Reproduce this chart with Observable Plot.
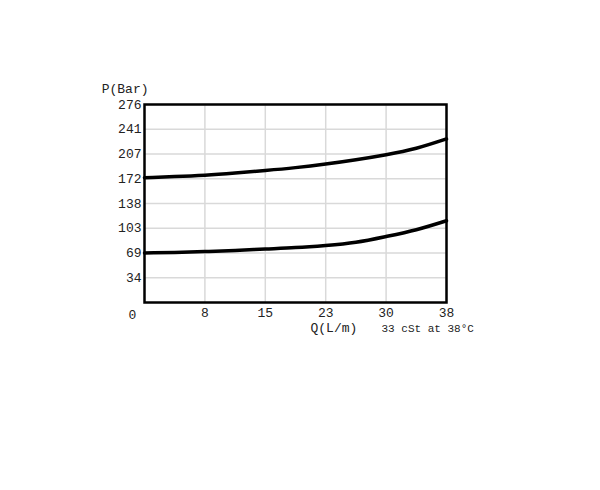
<!DOCTYPE html>
<html>
<head>
<meta charset="utf-8">
<script src="https://cdn.jsdelivr.net/npm/d3@7"></script>
<script src="https://cdn.jsdelivr.net/npm/@observablehq/plot@0.6"></script>
<style>
  body { margin: 0; background: #fff; }
  #chart svg { font-family: "Liberation Mono", monospace; }
</style>
</head>
<body>
<div id="chart"></div>
<script>
// Flow (L/m) sample points
const flow = [0, 3.8, 7.6, 11.4, 15.2, 19, 22.8, 26.6, 30.4, 34.2, 38];
// Pressure curves (Bar)
const upperCurve = [174, 175.5, 177.5, 180.5, 184, 188, 193, 199, 206, 215, 228];
const lowerCurve = [69, 69.8, 71, 72.5, 74.5, 76.5, 79.5, 84, 92, 101.5, 114];
// Tick positions and labels
const xTickValues = [7.6, 15.2, 22.8, 30.4, 38];
const xTickLabels = ["8", "15", "23", "30", "38"];
const yTickValues = [34.5, 69, 103.5, 138, 172.5, 207, 241.5, 276];
const yTickLabels = ["34", "69", "103", "138", "172", "207", "241", "276"];

const series = [
  ...flow.map((q, i) => ({q, p: upperCurve[i], s: "upper"})),
  ...flow.map((q, i) => ({q, p: lowerCurve[i], s: "lower"}))
];
const xLab = new Map(xTickValues.map((v, i) => [v, xTickLabels[i]]));
const yLab = new Map(yTickValues.map((v, i) => [v, yTickLabels[i]]));

const chart = Plot.plot({
  width: 600,
  height: 490,
  marginLeft: 144,
  marginRight: 154,
  marginTop: 104,
  marginBottom: 188,
  style: {fontFamily: "Liberation Mono, monospace", fontSize: "13px", color: "#222", background: "#fff"},
  x: {domain: [0, 38]},
  y: {domain: [0, 276]},
  marks: [
    Plot.gridX(xTickValues, {stroke: "#d9d9d9", strokeOpacity: 1, strokeWidth: 1.5}),
    Plot.gridY(yTickValues, {stroke: "#d9d9d9", strokeOpacity: 1, strokeWidth: 1.5}),
    Plot.axisX(xTickValues, {tickSize: 0, tickPadding: 5, tickFormat: d => xLab.get(d), label: null, fontSize: 13, style: "letter-spacing:1.5px"}),
    Plot.axisY(yTickValues, {tickSize: 0, tickPadding: 3, tickFormat: d => yLab.get(d), label: null, fontSize: 13, style: "letter-spacing:1px"}),
    Plot.text([{q: 0, p: 0}], {x: "q", y: "p", text: () => "0", dx: -12, dy: 12, fontSize: 13, fill: "#222"}),
    Plot.line(series, {x: "q", y: "p", z: "s", curve: "natural", stroke: "#000", strokeWidth: 3.5}),
    Plot.frame({stroke: "#000", strokeWidth: 2.5}),
    Plot.text(["P(Bar)"], {frameAnchor: "top-left", textAnchor: "end", lineAnchor: "middle", dx: 4, dy: -16, fontSize: 13, fill: "#222", style: "letter-spacing:1.5px"}),
    Plot.text(["Q(L/m)"], {frameAnchor: "bottom-right", textAnchor: "start", lineAnchor: "middle", dx: -136, dy: 25, fontSize: 13, fill: "#222", style: "letter-spacing:1.5px"}),
    Plot.text(["33 cSt at 38°C"], {frameAnchor: "bottom-right", textAnchor: "start", lineAnchor: "middle", dx: -65, dy: 26, fontSize: 11, fill: "#222", style: "letter-spacing:0.9px"})
  ]
});
document.getElementById("chart").appendChild(chart);
</script>
</body>
</html>
